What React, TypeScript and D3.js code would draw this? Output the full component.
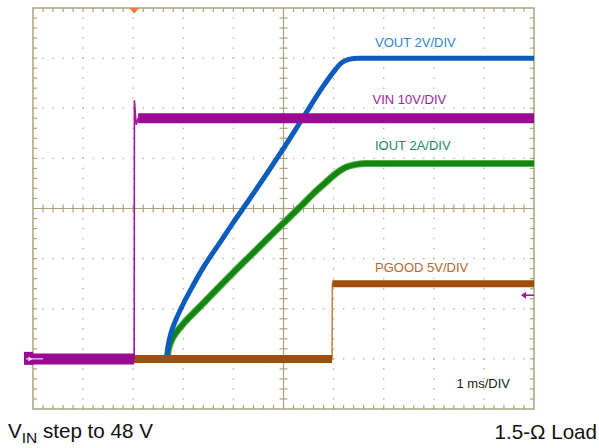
import React from 'react';
import * as d3 from 'd3';

// ---- data (time in ms, values in channel units) ----
const vinTime = [0, 2.02, 2.024, 2.06, 2.1, 10];
const vinVolts = [0, 0, 51.6, 46.7, 48.0, 48.0];
const vinStep = [2.02, 2.1];

const voutTime = [0, 2.67, 2.7, 2.75, 2.85, 3.0, 3.2, 3.4, 3.7, 4.0, 4.33, 5.0, 5.43, 5.8, 6.0, 6.15, 6.3, 6.5, 10];
const voutVolts = [0, 0, 0.55, 1.0, 1.55, 2.2, 2.95, 3.65, 4.55, 5.45, 6.4, 8.4, 9.75, 10.9, 11.45, 11.8, 11.95, 12.0, 12.0];

const ioutTime = [0, 2.67, 2.7, 2.76, 2.87, 3.0, 3.33, 3.67, 4.0, 4.33, 4.66, 5.0, 5.35, 5.6, 5.85, 6.05, 6.25, 6.45, 6.65, 10];
const ioutAmps = [0, 0, 0.35, 0.72, 1.08, 1.4, 2.08, 2.78, 3.45, 4.1, 4.75, 5.42, 6.1, 6.6, 7.05, 7.4, 7.65, 7.76, 7.8, 7.8];

const pgoodTime = [0, 5.97, 5.975, 10];
const pgoodVolts = [0, 0, 7.5, 7.5];
const pgoodStep = [5.97, 5.975];

const scalesPerDiv = { vin: 10, vout: 2, iout: 2, pgood: 5 };
const labels = ['VOUT 2V/DIV', 'VIN 10V/DIV', 'IOUT 2A/DIV', 'PGOOD 5V/DIV', '1 ms/DIV'];
const rightMarkerDiv = 2.27;

const W = 599;
const H = 448;
const FONT = '"Liberation Sans", Arial, Helvetica, sans-serif';

const x = d3.scaleLinear().domain([0, 10]).range([33, 534]);
const y = d3.scaleLinear().domain([0, 8]).range([409, 8]);
const GROUND = 1;
const chY = (perDiv: number) => (v: number) => y(GROUND + v / perDiv);

type P = [number, number];
const zip = (t: number[], v: number[]): P[] => t.map((tt, i) => [tt, v[i]]);

const GRID = '#aaa47f';
const DOT = '#b8b394';

export default function App() {
  const minorX = d3.range(0, 10.0001, 0.2);
  const minorY = d3.range(0, 8.0001, 0.2);

  const mkLine = (perDiv: number, curve: d3.CurveFactory = d3.curveLinear) =>
    d3
      .line<P>()
      .x((d) => x(d[0]))
      .y((d) => chY(perDiv)(d[1]))
      .curve(curve);

  const vinData = zip(vinTime, vinVolts);
  const voutData = zip(voutTime, voutVolts);
  const ioutData = zip(ioutTime, ioutAmps);
  const pgData = zip(pgoodTime, pgoodVolts);

  const vinLine = mkLine(scalesPerDiv.vin);
  const voutLine = mkLine(scalesPerDiv.vout, d3.curveMonotoneX);
  const ioutLine = mkLine(scalesPerDiv.iout, d3.curveMonotoneX);
  const pgLine = mkLine(scalesPerDiv.pgood);

  const vinLow = vinData.filter((d) => d[0] <= vinStep[0]);
  const vinHigh = vinData.filter((d) => d[0] >= vinStep[1]);
  const pgLow = pgData.filter((d) => d[0] <= pgoodStep[0]);
  const pgHigh = pgData.filter((d) => d[0] >= pgoodStep[1]);

  const dots: JSX.Element[] = [];
  for (let i = 1; i < 10; i++) {
    if (i === 5) continue;
    minorY.forEach((j, k) => {
      dots.push(<rect key={`v${i}-${k}`} x={x(i) - 0.7} y={y(j) - 0.7} width={1.4} height={1.4} fill={DOT} />);
    });
  }
  for (let j = 1; j < 8; j++) {
    if (j === 4) continue;
    minorX.forEach((i, k) => {
      dots.push(<rect key={`h${j}-${k}`} x={x(i) - 0.7} y={y(j) - 0.7} width={1.4} height={1.4} fill={DOT} />);
    });
  }

  const ticks: JSX.Element[] = [];
  minorX.forEach((i, k) => {
    if (k === 0 || k === minorX.length - 1) return;
    ticks.push(<line key={`tt${k}`} x1={x(i)} x2={x(i)} y1={y(8)} y2={y(8) + 4} />);
    ticks.push(<line key={`tb${k}`} x1={x(i)} x2={x(i)} y1={y(0)} y2={y(0) - 4} />);
    ticks.push(<line key={`tc${k}`} x1={x(i)} x2={x(i)} y1={y(4) - 4} y2={y(4) + 4} />);
  });
  minorY.forEach((j, k) => {
    if (k === 0 || k === minorY.length - 1) return;
    ticks.push(<line key={`tl${k}`} x1={x(0)} x2={x(0) + 4} y1={y(j)} y2={y(j)} />);
    ticks.push(<line key={`tr${k}`} x1={x(10)} x2={x(10) - 4} y1={y(j)} y2={y(j)} />);
    ticks.push(<line key={`tm${k}`} x1={x(5) - 4} x2={x(5) + 4} y1={y(j)} y2={y(j)} />);
  });

  const gY = y(GROUND);
  const trigX = x(vinStep[0]);
  const rmY = y(rightMarkerDiv);

  return (
    <svg
      width={W}
      height={H}
      style={{ position: 'absolute', left: 0, top: 0, background: '#fff' }}
      fontFamily={FONT}
    >
      <rect x={0} y={0} width={W} height={H} fill="#fff" />
      {dots}
      <g stroke={GRID} strokeWidth={1.2}>
        {ticks}
        <line x1={x(5)} x2={x(5)} y1={y(0)} y2={y(8)} />
        <line x1={x(0)} x2={x(10)} y1={y(4)} y2={y(4)} />
      </g>
      <rect x={x(0)} y={y(8)} width={x(10) - x(0)} height={y(0) - y(8)} fill="none" stroke={GRID} strokeWidth={1.5} />

      {/* traces */}
      <path d={ioutLine(ioutData) ?? ''} fill="none" stroke="#54ad44" strokeWidth={7} strokeLinejoin="round" />
      <path d={ioutLine(ioutData) ?? ''} fill="none" stroke="#128512" strokeWidth={5} strokeLinejoin="round" />
      <path d={voutLine(voutData) ?? ''} fill="none" stroke="#0c5cbe" strokeWidth={5} strokeLinejoin="round" />

      <path d={pgLine(pgData) ?? ''} fill="none" stroke="#c08850" strokeWidth={1.6} />
      <path d={pgLine(pgLow) ?? ''} fill="none" stroke="#9e4f0a" strokeWidth={8} />
      <path d={pgLine(pgHigh) ?? ''} fill="none" stroke="#9e4f0a" strokeWidth={7} />

      <path d={vinLine(vinData) ?? ''} fill="none" stroke="#a4169e" strokeWidth={1.6} />
      <path d={vinLine(vinLow) ?? ''} fill="none" stroke="#9a0a94" strokeWidth={11} />
      <path d={vinLine(vinHigh) ?? ''} fill="none" stroke="#9a0a94" strokeWidth={10} />

      {/* markers */}
      <polygon points={`${trigX - 5},${y(8)} ${trigX + 5},${y(8)} ${trigX},${y(8) + 5.5}`} fill="#fa7a35" />
      <rect x={24} y={gY - 7} width={x(0) - 24} height={13} fill="#9a0a94" />
      <line x1={26} x2={43} y1={gY} y2={gY} stroke="#fff" strokeWidth={1} />
      <polygon points={`${32},${gY} ${28.5},${gY - 2.5} ${28.5},${gY + 2.5}`} fill="#fff" />
      <line x1={x(10) - 12} x2={x(10)} y1={rmY} y2={rmY} stroke="#a4169e" strokeWidth={1.6} />
      <polygon points={`${x(10) - 13},${rmY} ${x(10) - 8},${rmY - 3.5} ${x(10) - 8},${rmY + 3.5}`} fill="#a4169e" />

      {/* labels */}
      <g fontSize={13}>
        <text x={375} y={47} fill="#2e88cf">{labels[0]}</text>
        <text x={372.5} y={103.5} fill="#a1259b">{labels[1]}</text>
        <text x={375} y={150} fill="#1b8a60">{labels[2]}</text>
        <text x={375} y={272} fill="#b6692f">{labels[3]}</text>
        <text x={456.5} y={388} fill="#1a1a1a">{labels[4]}</text>
      </g>

      <text x={8} y={438} fontSize={20.6} fill="#111">
        V<tspan fontSize={15.5} dy={5}>IN</tspan>
        <tspan dy={-5}> step to 48 V</tspan>
      </text>
      <text x={597} y={439} fontSize={20.6} fill="#111" textAnchor="end">1.5-Ω Load</text>
    </svg>
  );
}
